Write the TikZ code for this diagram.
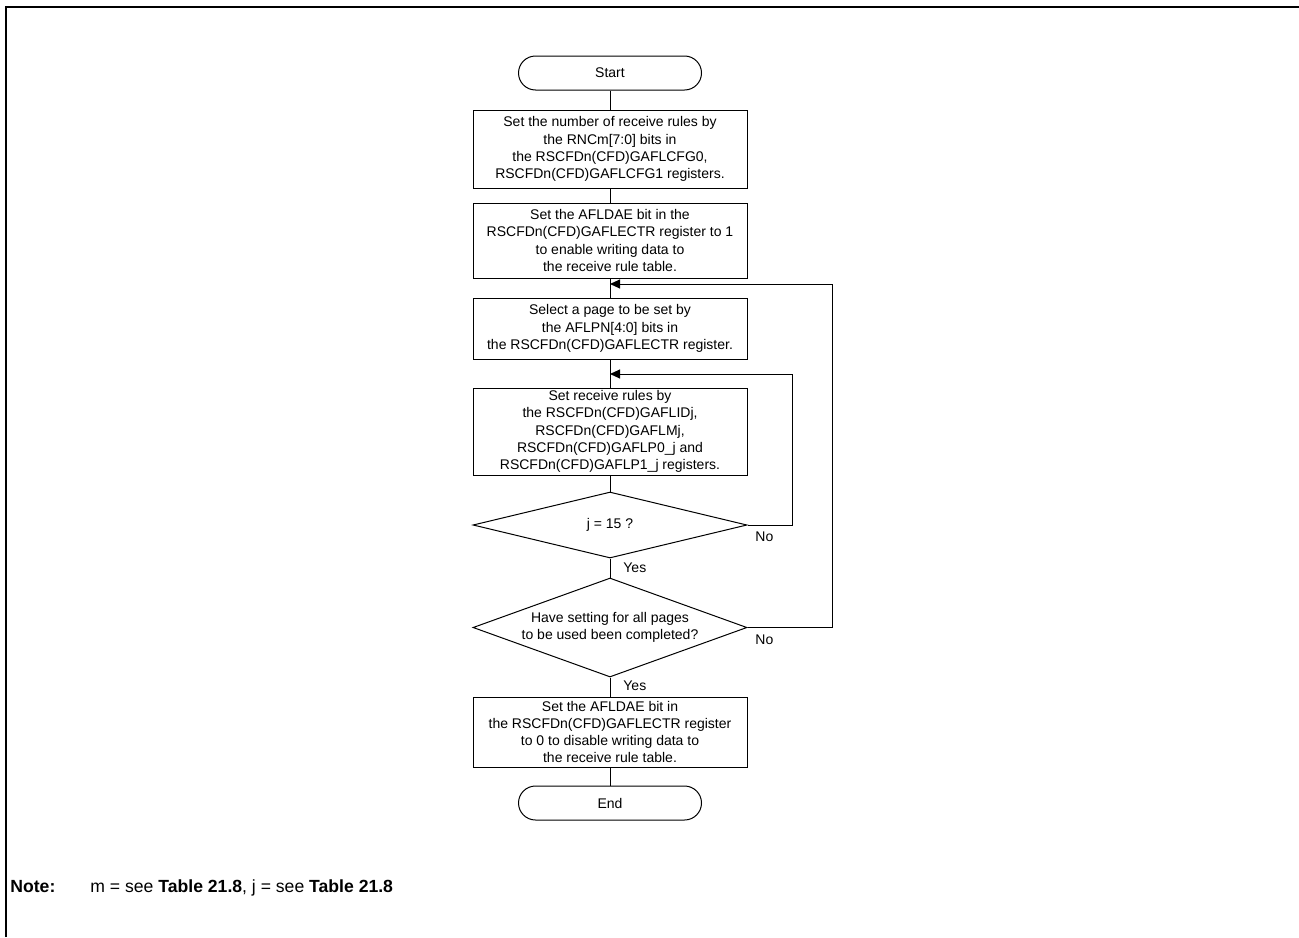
\documentclass[tikz,border=0pt]{standalone}
\usepackage{fontspec}
\setmainfont{Liberation Sans}
\usetikzlibrary{shapes.geometric,arrows.meta}
\tikzset{
  box/.style={draw, line width=0.5pt, align=center, minimum width=137pt, inner sep=0pt, font=\fontsize{7}{8.6}\selectfont},
  term/.style={draw, line width=0.5pt, rounded corners=8.5pt, minimum width=91.5pt, minimum height=17pt, font=\fontsize{7}{8.6}\selectfont},
  dec/.style={draw, line width=0.5pt, diamond, aspect=2.77, inner sep=0pt, align=center, minimum width=137pt, font=\fontsize{7}{8.6}\selectfont},
  lbl/.style={anchor=west, inner sep=0pt, font=\fontsize{7}{8.6}\selectfont},
  flow/.style={line width=0.5pt},
  back/.style={line width=0.5pt, -{Triangle[length=5pt,width=4.5pt]}},
  notetxt/.style={anchor=base west, inner sep=0pt, font=\fontsize{8.8}{10}\selectfont}
}
\begin{document}
\begin{tikzpicture}[x=0.5pt,y=-0.5pt]
\useasboundingbox (0,0) rectangle (1299,937);
\draw[line width=1.2pt] (6,937) -- (6,7) -- (1299,7);

\node[term] (st) at (610,73) {Start};
\node[box, minimum height=39pt] (nrc) at (610,149) {Set the number of receive rules by\\the RNCm[7:0] bits in\\the RSCFDn(CFD)GAFLCFG0,\\RSCFDn(CFD)GAFLCFG1 registers.};
\node[box, minimum height=37.5pt] (ena) at (610,240.5) {Set the AFLDAE bit in the\\RSCFDn(CFD)GAFLECTR register to 1\\to enable writing data to\\the receive rule table.};
\node[box, minimum height=30.5pt] (pg) at (610,328.5) {Select a page to be set by\\the AFLPN[4:0] bits in\\the RSCFDn(CFD)GAFLECTR register.};
\node[box, minimum height=43.5pt] (rr) at (610,431.5) {Set receive rules by\\the RSCFDn(CFD)GAFLIDj,\\RSCFDn(CFD)GAFLMj,\\RSCFDn(CFD)GAFLP0\_j and\\RSCFDn(CFD)GAFLP1\_j registers.};
\node[dec, minimum height=33pt] (dj) at (610,525) {j = 15 ?};
\node[dec, minimum height=49.5pt] (dp) at (610,627.5) {Have setting for all pages\\to be used been completed?};
\node[box, minimum height=35pt] (dis) at (610,732) {Set the AFLDAE bit in\\the RSCFDn(CFD)GAFLECTR register\\to 0 to disable writing data to\\the receive rule table.};
\node[term] (en) at (610,803) {End};

\node[lbl] (y1) at (623,568) {Yes};
\node[lbl] (n1) at (755,537) {No};
\node[lbl] (n2) at (755,640) {No};
\node[lbl] (y2) at (623,686) {Yes};

\coordinate (j1) at (610,284);
\coordinate (j2) at (610,374);

\draw[flow] (st) -- (nrc);
\draw[flow] (nrc) -- (ena);
\draw[flow] (ena) -- (pg);
\draw[flow] (pg) -- (rr);
\draw[flow] (rr) -- (dj);
\draw[flow] (dj) -- (dp);
\draw[flow] (dp) -- (dis);
\draw[flow] (dis) -- (en);
\draw[back] (dj.east) -- ++(45,0) |- (j2);
\draw[back] (dp.east) -- ++(85,0) |- (j1);

\node[notetxt, font=\fontsize{8.8}{10}\selectfont\bfseries] (nt) at (10,892) {Note:};
\node[notetxt] (ntx) at (90,892) {m = see \textbf{Table 21.8}, j = see \textbf{Table 21.8}};
\end{tikzpicture}
\end{document}
